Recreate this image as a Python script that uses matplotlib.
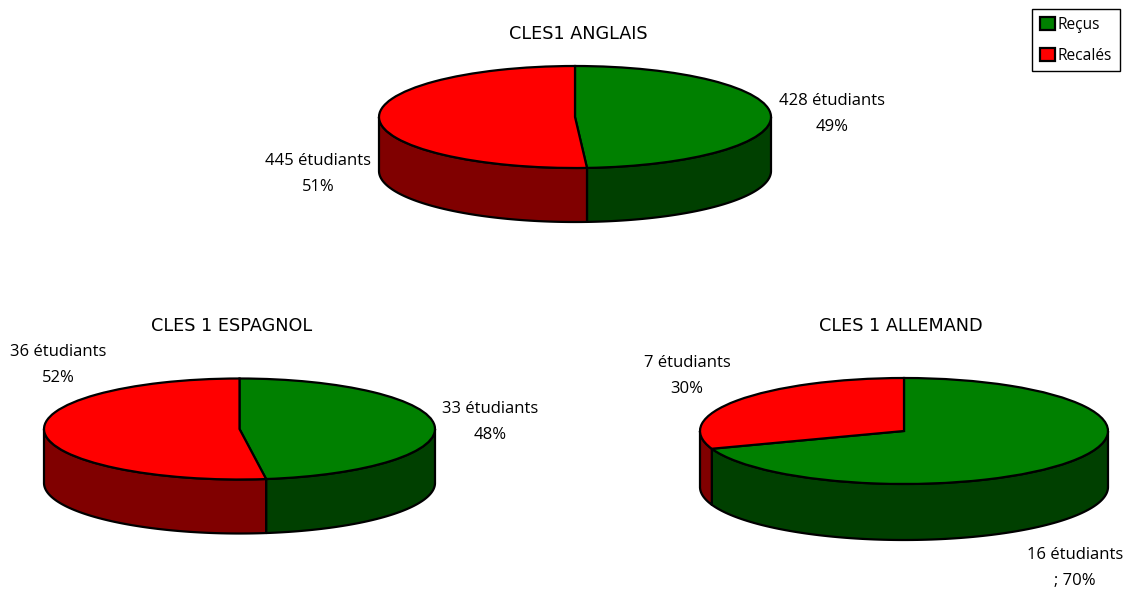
import matplotlib
matplotlib.use("Agg")
import matplotlib.pyplot as plt
import numpy as np
from matplotlib.patches import Patch

plt.rcParams["font.family"] = ["Open Sans", "DejaVu Sans"]
plt.rcParams["font.size"] = 12

W, H = 1128, 590

# data
categories = ["Reçus", "Recalés"]
anglais = [428, 445]
espagnol = [33, 36]
allemand = [16, 7]
titles = ["CLES1 ANGLAIS", "CLES 1 ESPAGNOL", "CLES 1 ALLEMAND"]
labels_anglais = ["428 étudiants\n49%", "445 étudiants\n51%"]
labels_espagnol = ["33 étudiants\n48%", "36 étudiants\n52%"]
labels_allemand = ["16 étudiants\n; 70%", "7 étudiants\n30%"]

# colours
TOP = ["#008000", "#FF0000"]
SIDE = ["#004000", "#800000"]
LW = 1.6


def draw_pie(fig, values, cx, cy, rx, ry, depth):
    """Pie 3D style Excel : dessus elliptique + paroi avant, positions en pixels."""
    d = depth / ry
    ax = fig.add_axes([(cx - rx) / W, 1 - (cy + ry + depth) / H, 2 * rx / W, (2 * ry + depth) / H])
    fractions = np.array(values) / sum(values)
    edges = np.concatenate([[0], np.cumsum(fractions)]) * 360

    # paroi avant, seulement la partie visible (90 a 270 deg depuis le haut)
    for i in range(len(values)):
        a0, a1 = max(edges[i], 90), min(edges[i + 1], 270)
        if a1 <= a0:
            continue
        t = np.radians(np.linspace(a0, a1, 120))
        xs = np.concatenate([np.sin(t), np.sin(t[::-1])])
        ys = np.concatenate([np.cos(t), np.cos(t[::-1]) - d])
        ax.fill(xs, ys, facecolor=SIDE[i], edgecolor="black", lw=LW, joinstyle="round", clip_on=False, zorder=1)

    wedges, _ = ax.pie(
        values,
        colors=TOP,
        startangle=90,
        counterclock=False,
        radius=1,
        wedgeprops={"edgecolor": "black", "linewidth": LW},
    )
    for w in wedges:
        w.set_clip_on(False)
        w.set_zorder(2)
    ax.set_aspect("auto")
    ax.set_xlim(-1, 1)
    ax.set_ylim(-1 - d, 1)
    ax.axis("off")


def px_text(fig, x, y, s, **kw):
    fig.text(x / W, 1 - y / H, s, ha="center", va="center", color="black", linespacing=1.9, **kw)


fig = plt.figure(figsize=(W / 100, H / 100), dpi=100, facecolor="white")

draw_pie(fig, anglais, 575, 117, 196, 51, 54)
draw_pie(fig, espagnol, 239.5, 429, 195.5, 50.5, 54)
draw_pie(fig, allemand, 904, 431, 204, 53, 56)

# titres : capitales plus larges dans l'original
px_text(fig, 578, 34, titles[0], family="DejaVu Sans", fontsize=12.7)
px_text(fig, 232, 326, titles[1], family="DejaVu Sans", fontsize=12.7)
px_text(fig, 901, 326, titles[2], family="DejaVu Sans", fontsize=12.7)

px_text(fig, 832, 114, labels_anglais[0])
px_text(fig, 318, 174, labels_anglais[1])
px_text(fig, 490, 422, labels_espagnol[0])
px_text(fig, 58, 365, labels_espagnol[1])
px_text(fig, 1075, 568, labels_allemand[0])
px_text(fig, 687, 376, labels_allemand[1])

handles = [Patch(facecolor=c, edgecolor="black", linewidth=LW) for c in TOP]
fig.legend(
    handles,
    categories,
    loc="upper left",
    bbox_to_anchor=(1032 / W, 1 - 9 / H),
    fancybox=False,
    framealpha=1,
    edgecolor="black",
    handlelength=0.95,
    handleheight=0.95,
    handletextpad=0.2,
    labelspacing=0.95,
    borderpad=0.5,
    borderaxespad=0,
    fontsize=11.2,
)

fig.savefig("out.png", dpi=100)
